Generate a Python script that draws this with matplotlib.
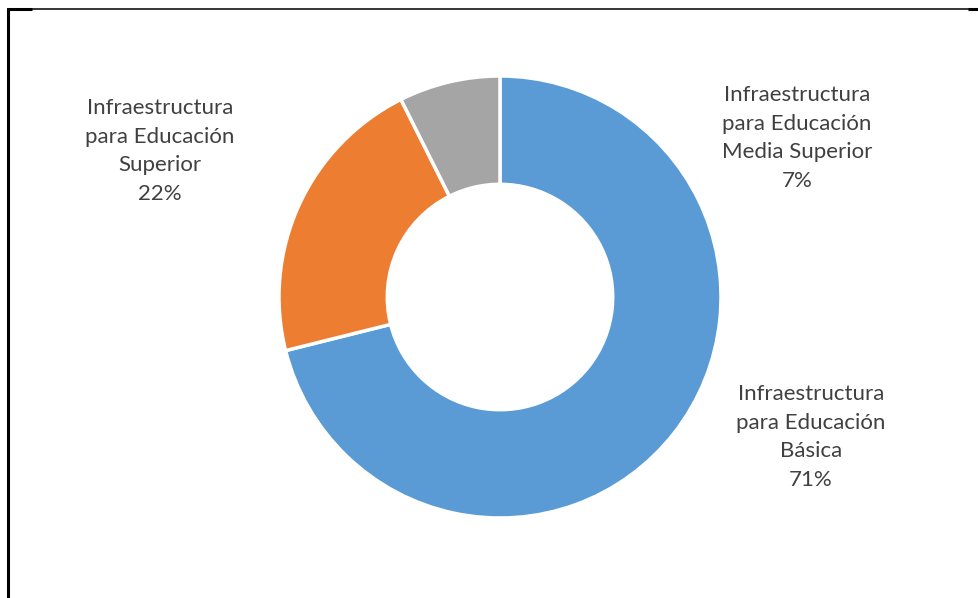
import matplotlib
matplotlib.use("Agg")
import matplotlib.pyplot as plt
from matplotlib.lines import Line2D

categories = ["Infraestructura\npara Educación\nBásica",
              "Infraestructura\npara Educación\nSuperior",
              "Infraestructura\npara Educación\nMedia Superior"]
values = [71.1, 21.5, 7.4]
pct_labels = ["71%", "22%", "7%"]
colors = ["#5B9BD5", "#ED7D31", "#A5A5A5"]

W, H = 979, 598
fig = plt.figure(figsize=(W / 100, H / 100), dpi=100)
plt.rcParams['font.family'] = ['Lato', 'DejaVu Sans']

cx, cy, r = 500, 297, 221
ax = fig.add_axes([(cx - r) / W, (H - cy - r) / H, 2 * r / W, 2 * r / H])
ax.pie(values, colors=colors, startangle=90, counterclock=False, radius=1,
       wedgeprops=dict(width=0.49, edgecolor="white", linewidth=2.5))
ax.set_xlim(-1, 1)
ax.set_ylim(-1, 1)
ax.set_aspect("equal")
ax.axis("off")

label_pos = [(811, 437), (160, 151), (797, 138)]
for cat, p, (lx, ly) in zip(categories, pct_labels, label_pos):
    fig.text(lx / W, 1 - ly / H, f"{cat}\n{p}", ha="center", va="center",
             fontsize=16, color="#404040", linespacing=1.55)

def px_line(x0, y0, x1, y1, lw):
    fig.add_artist(Line2D([x0 / W, x1 / W], [1 - y0 / H, 1 - y1 / H],
                          transform=fig.transFigure, color="black", linewidth=lw,
                          solid_capstyle="butt"))

px_line(8.5, 8, 8.5, 598, 2.2)
px_line(7, 8.5, 979, 8.5, 1.1)
px_line(7, 9, 32, 9, 2.2)
px_line(968, 9, 979, 9, 2.2)

fig.savefig("out.png", dpi=100)
